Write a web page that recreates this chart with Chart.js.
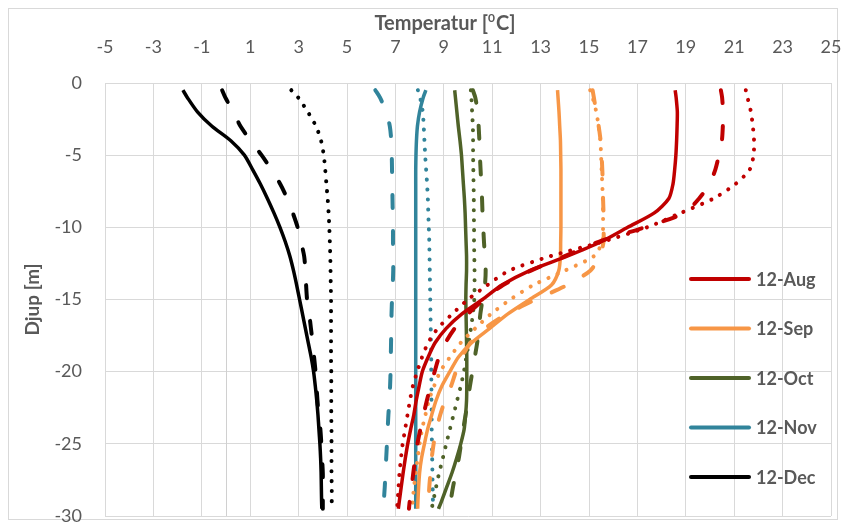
<!DOCTYPE html>
<html lang="sv">
  <head>
    <meta charset="utf-8">
    <title>Temperatur mot djup</title>
    <script src="https://cdn.jsdelivr.net/npm/chart.js"></script>
    <style>
      html, body { margin: 0; padding: 0; background: #fff; }
      #wrap { width: 846px; height: 524px; }
    </style>
  </head>
  <body>
    <div id="wrap"><canvas id="myChart" width="846" height="524"></canvas></div>
    <script>
      // djup [m] (negativt nedåt)
      const depths = [-0.5, -1, -2, -3, -4, -5, -6, -7, -8, -9, -10, -11, -12, -13, -14, -15,
                      -16, -17, -18, -19, -20, -21, -22, -23, -24, -25, -26, -27, -28, -29, -29.5];

      const months = ['12-Aug', '12-Sep', '12-Oct', '12-Nov', '12-Dec'];
      const colors = ['#C00000', '#F79646', '#4F6228', '#31849B', '#000000'];

      // temperatur [°C], tre profiler per månad: heldragen, streckad, prickad
      const augSolid  = [18.56, 18.6, 18.65, 18.64, 18.62, 18.59, 18.54, 18.47, 18.3, 17.7, 16.6, 15.5, 14.1, 12.55, 11.4, 10.6,
                         9.75, 9.1, 8.64, 8.35, 8.11, 7.98, 7.86, 7.76, 7.63, 7.51, 7.41, 7.32, 7.24, 7.16, 7.12];
      const augDashed = [20.45, 20.5, 20.54, 20.53, 20.49, 20.37, 20.22, 19.98, 19.55, 18.95, 17.3, 15.4, 14.0, 12.6, 11.45, 10.65,
                         10.0, 9.45, 9.07, 8.8, 8.62, 8.45, 8.3, 8.16, 8.03, 7.91, 7.82, 7.74, 7.67, 7.59, 7.56];
      const augDotted = [21.48, 21.55, 21.69, 21.77, 21.82, 21.8, 21.64, 21.05, 20.15, 18.8, 17.4, 15.55, 13.4, 11.7, 10.8, 10.0,
                         9.35, 8.75, 8.35, 8.1, 7.9, 7.72, 7.6, 7.5, 7.4, 7.3, 7.23, 7.17, 7.13, 7.09, 7.07];

      const sepSolid  = [13.7, 13.72, 13.76, 13.79, 13.82, 13.83, 13.84, 13.84, 13.84, 13.84, 13.84, 13.83, 13.82, 13.75, 13.45, 12.55,
                         11.65, 10.9, 10.15, 9.6, 9.25, 8.92, 8.68, 8.5, 8.33, 8.2, 8.08, 8.0, 7.96, 7.93, 7.92];
      const sepDashed = [15.15, 15.2, 15.3, 15.4, 15.48, 15.52, 15.55, 15.57, 15.58, 15.6, 15.6, 15.6, 15.45, 15.05, 14.1, 12.8,
                         11.6, 10.7, 10.1, 9.75, 9.5, 9.3, 9.05, 8.85, 8.7, 8.58, 8.5, 8.45, 8.4, 8.37, 8.35];
      const sepDotted = [15.05, 15.15, 15.3, 15.4, 15.47, 15.5, 15.52, 15.55, 15.57, 15.58, 15.58, 15.55, 15.2, 14.0, 12.7, 11.75,
                         10.95, 10.3, 9.7, 9.25, 8.85, 8.6, 8.38, 8.24, 8.1, 8.0, 7.92, 7.84, 7.77, 7.71, 7.69];

      const octSolid  = [9.45, 9.48, 9.54, 9.6, 9.67, 9.73, 9.77, 9.81, 9.85, 9.88, 9.9, 9.92, 9.94, 9.94, 9.92, 9.91,
                         9.92, 9.93, 9.94, 9.95, 9.95, 9.95, 9.94, 9.9, 9.84, 9.7, 9.53, 9.34, 9.12, 8.9, 8.78];
      const octDashed = [10.2, 10.3, 10.4, 10.44, 10.47, 10.49, 10.52, 10.55, 10.58, 10.6, 10.63, 10.66, 10.7, 10.73, 10.7, 10.6,
                         10.51, 10.45, 10.38, 10.28, 10.18, 10.08, 9.99, 9.9, 9.8, 9.71, 9.62, 9.5, 9.38, 9.28, 9.23];
      const octDotted = [10.12, 10.14, 10.17, 10.2, 10.21, 10.21, 10.22, 10.23, 10.24, 10.24, 10.25, 10.25, 10.26, 10.27, 10.27, 10.26,
                         10.2, 10.12, 10.03, 9.93, 9.83, 9.7, 9.55, 9.4, 9.25, 9.1, 8.96, 8.81, 8.68, 8.56, 8.5];

      const novSolid  = [8.26, 8.15, 8.0, 7.91, 7.87, 7.85, 7.84, 7.84, 7.84, 7.84, 7.84, 7.84, 7.84, 7.84, 7.84, 7.84,
                         7.84, 7.84, 7.84, 7.84, 7.84, 7.84, 7.84, 7.84, 7.84, 7.84, 7.84, 7.84, 7.84, 7.84, 7.84];
      const novDashed = [6.17, 6.36, 6.62, 6.77, 6.83, 6.85, 6.86, 6.87, 6.88, 6.89, 6.9, 6.9, 6.91, 6.91, 6.89, 6.86,
                         6.84, 6.83, 6.82, 6.81, 6.8, 6.78, 6.75, 6.71, 6.68, 6.65, 6.62, 6.59, 6.56, 6.52, 6.5];
      const novDotted = [7.93, 8.02, 8.13, 8.17, 8.2, 8.23, 8.27, 8.31, 8.34, 8.36, 8.38, 8.4, 8.41, 8.42, 8.43, 8.44,
                         8.45, 8.46, 8.47, 8.48, 8.48, 8.49, 8.49, 8.5, 8.5, 8.51, 8.52, 8.53, 8.54, 8.55, 8.55];

      const decSolid  = [-1.78, -1.6, -1.18, -0.58, 0.2, 0.76, 1.1, 1.42, 1.71, 1.98, 2.23, 2.45, 2.64, 2.79, 2.92, 3.04,
                         3.16, 3.28, 3.4, 3.52, 3.62, 3.69, 3.75, 3.8, 3.84, 3.88, 3.91, 3.93, 3.94, 3.95, 3.96];
      const decDashed = [-0.16, -0.03, 0.3, 0.6, 1.02, 1.47, 1.88, 2.24, 2.53, 2.76, 2.96, 3.1, 3.23, 3.28, 3.31, 3.35,
                         3.44, 3.51, 3.58, 3.64, 3.7, 3.74, 3.78, 3.83, 3.9, 3.94, 3.97, 4.0, 4.0, 4.0, 4.0];
      const decDotted = [2.7, 2.98, 3.38, 3.72, 3.93, 4.04, 4.1, 4.15, 4.2, 4.24, 4.27, 4.29, 4.31, 4.32, 4.33, 4.34,
                         4.34, 4.34, 4.34, 4.34, 4.35, 4.35, 4.35, 4.35, 4.36, 4.36, 4.36, 4.36, 4.37, 4.37, 4.37];

      const profiles = [
        [augSolid, augDashed, augDotted],
        [sepSolid, sepDashed, sepDotted],
        [octSolid, octDashed, octDotted],
        [novSolid, novDashed, novDotted],
        [decSolid, decDashed, decDotted]
      ];

      const styles = [
        { dash: [], cap: 'butt' },
        { dash: [13, 23], cap: 'round' },
        { dash: [0.1, 9.9], cap: 'round' }
      ];

      const datasets = [];
      profiles.forEach((set, m) => {
        set.forEach((temps, s) => {
          datasets.push({
            label: months[m] + (s ? ' (' + (s + 1) + ')' : ''),
            data: temps.map((t, i) => ({ x: t, y: depths[i] })),
            showLine: true,
            borderColor: colors[m],
            backgroundColor: colors[m],
            borderWidth: s === 0 ? 3.5 : 4,
            borderDash: styles[s].dash,
            borderCapStyle: styles[s].cap,
            borderJoinStyle: 'round',
            pointRadius: 0,
            tension: 0.25
          });
        });
      });

      const textColor = '#595959';
      const gridColor = '#D9D9D9';
      const fontFamily = 'Lato, "Open Sans", sans-serif';

      const framePlugin = {
        id: 'framePlugin',
        beforeDraw(chart) {
          const ctx = chart.ctx;
          ctx.save();
          ctx.fillStyle = '#fff';
          ctx.fillRect(0, 0, chart.width, chart.height);
          ctx.strokeStyle = gridColor;
          ctx.lineWidth = 1;
          ctx.strokeRect(8.5, 8.5, chart.width - 17, chart.height - 13);
          ctx.restore();
        },
        beforeDatasetsDraw(chart) {
          // lodrät axellinje vid 0 °C
          const ctx = chart.ctx;
          const area = chart.chartArea;
          const x0 = Math.round(chart.scales.x.getPixelForValue(0)) + 0.5;
          ctx.save();
          ctx.strokeStyle = '#D0D0D0';
          ctx.lineWidth = 1;
          ctx.beginPath();
          ctx.moveTo(x0, area.top);
          ctx.lineTo(x0, area.bottom);
          ctx.stroke();
          ctx.restore();
        },
        afterDraw(chart) {
          const ctx = chart.ctx;
          ctx.save();

          // x-axelns titel med upphöjd nolla
          ctx.fillStyle = textColor;
          ctx.textBaseline = 'alphabetic';
          ctx.textAlign = 'left';
          const big = 'bold 20px ' + fontFamily;
          const small = 'bold 12px ' + fontFamily;
          ctx.font = big;
          const w1 = ctx.measureText('Temperatur [').width;
          const w3 = ctx.measureText('C]').width;
          ctx.font = small;
          const w2 = ctx.measureText('0').width + 1;
          const total = w1 + w2 + w3;
          const tx = 445 - total / 2;
          const base = 30;
          ctx.font = big;
          ctx.fillText('Temperatur [', tx, base);
          ctx.font = small;
          ctx.fillText('0', tx + w1, base - 8);
          ctx.font = big;
          ctx.fillText('C]', tx + w1 + w2, base);

          // förklaring
          ctx.font = 'bold 18px ' + fontFamily;
          ctx.textBaseline = 'middle';
          months.forEach((name, m) => {
            const ds = chart.data.datasets[m * 3];
            const y = 279 + m * 49.5;
            ctx.strokeStyle = ds.borderColor;
            ctx.lineWidth = 4;
            ctx.lineCap = 'round';
            ctx.beginPath();
            ctx.moveTo(691, y);
            ctx.lineTo(749, y);
            ctx.stroke();
            ctx.fillStyle = textColor;
            ctx.fillText(name, 756, y + 1);
          });
          ctx.restore();
        }
      };

      new Chart(document.getElementById('myChart'), {
        type: 'scatter',
        data: { datasets: datasets },
        options: {
          responsive: false,
          animation: false,
          events: [],
          layout: { padding: { left: 0, top: 0, right: 15, bottom: 8 } },
          plugins: {
            legend: { display: false },
            tooltip: { enabled: false }
          },
          scales: {
            x: {
              type: 'linear',
              position: 'top',
              min: -5,
              max: 25,
              afterFit(scale) {
                scale.height = 83;
                scale.paddingLeft = 0;
                scale.paddingRight = 0;
              },
              ticks: {
                stepSize: 2,
                autoSkip: false,
                maxRotation: 0,
                padding: 25,
                color: textColor,
                font: { family: fontFamily, size: 18 }
              },
              grid: { color: gridColor, drawTicks: false },
              border: { color: gridColor }
            },
            y: {
              type: 'linear',
              min: -30,
              max: 0,
              afterFit(scale) {
                scale.width = 105;
                scale.paddingTop = 0;
                scale.paddingBottom = 0;
              },
              ticks: {
                stepSize: 5,
                padding: 23,
                color: textColor,
                font: { family: fontFamily, size: 18 }
              },
              grid: { color: gridColor, drawTicks: false },
              border: { color: gridColor },
              title: {
                display: true,
                text: 'Djup [m]',
                color: textColor,
                font: { family: fontFamily, size: 19, weight: 'bold' },
                padding: { top: 21, bottom: 0 }
              }
            }
          }
        },
        plugins: [framePlugin]
      });
    </script>
  </body>
</html>
